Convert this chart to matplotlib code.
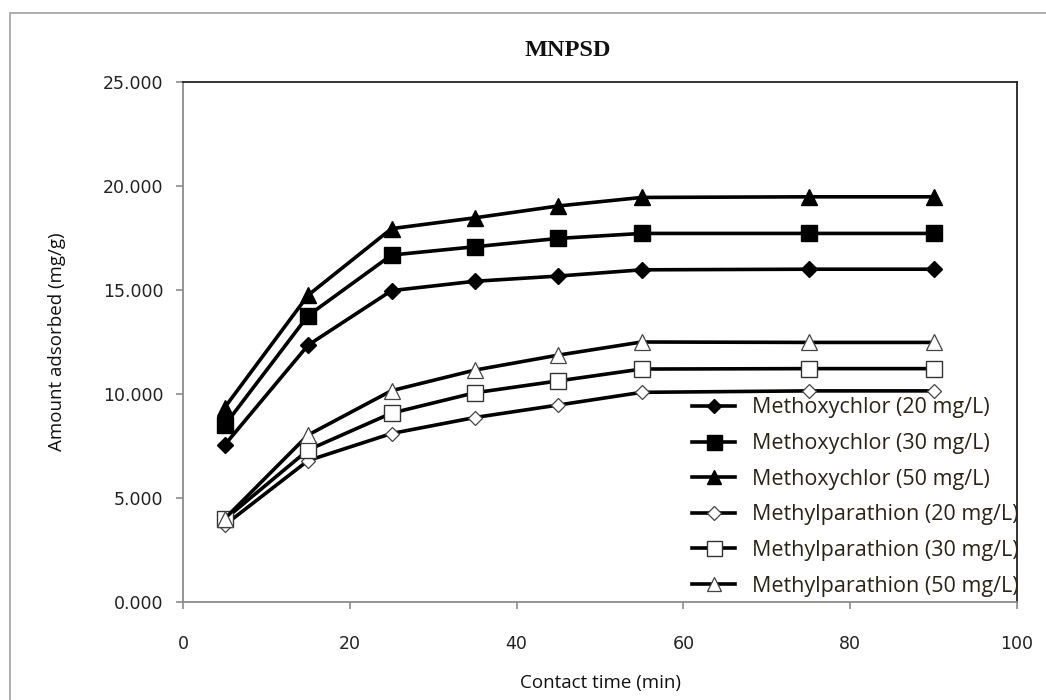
import matplotlib.pyplot as plt
from matplotlib.patches import Rectangle

# contact time (min)
time_min = [5, 15, 25, 35, 45, 55, 75, 90]

# amount adsorbed (mg/g)
methoxychlor_20 = [7.55, 12.35, 14.97, 15.42, 15.67, 15.97, 16.0, 16.0]
methoxychlor_30 = [8.5, 13.77, 16.68, 17.08, 17.48, 17.72, 17.72, 17.72]
methoxychlor_50 = [9.35, 14.75, 17.95, 18.47, 19.04, 19.45, 19.48, 19.48]
methylparathion_20 = [3.7, 6.8, 8.1, 8.87, 9.47, 10.08, 10.15, 10.15]
methylparathion_30 = [3.97, 7.31, 9.08, 10.06, 10.63, 11.2, 11.22, 11.22]
methylparathion_50 = [4.0, 8.03, 10.16, 11.15, 11.87, 12.5, 12.48, 12.48]

labels = ["Methoxychlor (20 mg/L)", "Methoxychlor (30 mg/L)", "Methoxychlor (50 mg/L)",
          "Methylparathion (20 mg/L)", "Methylparathion (30 mg/L)", "Methylparathion (50 mg/L)"]

W, H = 1046, 700
fig = plt.figure(figsize=(W / 100, H / 100), dpi=100)
ax = fig.add_axes([183 / W, 1 - 602 / H, (1017 - 183) / W, (602 - 82) / H])

# outer chart border
fig.patches.append(Rectangle((10 / W, -0.1), 1.1, 1.1 - 13 / H, transform=fig.transFigure,
                             fill=False, edgecolor="#a0a0a0", linewidth=1.2))

lw = 2.6
ax.plot(time_min, methoxychlor_20, color="black", lw=lw, marker="D", ms=8.3, mfc="black", mec="black", label=labels[0])
ax.plot(time_min, methoxychlor_30, color="black", lw=lw, marker="s", ms=12, mfc="black", mec="black", label=labels[1])
ax.plot(time_min, methoxychlor_50, color="black", lw=lw, marker="^", ms=11.5, mfc="black", mec="black", label=labels[2])
ax.plot(time_min, methylparathion_20, color="black", lw=lw, marker="D", ms=7.5, mfc="white", mec="#444444", mew=0.9, label=labels[3])
ax.plot(time_min, methylparathion_30, color="black", lw=lw, marker="s", ms=12, mfc="white", mec="#333333", mew=1.0, label=labels[4])
ax.plot(time_min, methylparathion_50, color="black", lw=lw, marker="^", ms=11.5, mfc="white", mec="#444444", mew=0.9, label=labels[5])

ax.set_xlim(0, 100)
ax.set_ylim(0, 25)
ax.set_xticks(range(0, 101, 20))
ax.set_yticks(range(0, 26, 5))
ax.set_yticklabels([f"{v:.3f}" for v in range(0, 26, 5)])

for s in ["left", "bottom"]:
    ax.spines[s].set_color("#8c8c8c")
    ax.spines[s].set_linewidth(1.3)
for s in ["top", "right"]:
    ax.spines[s].set_color("#222222")
    ax.spines[s].set_linewidth(1.3)

ax.tick_params(axis="x", direction="out", length=5, width=1.2, color="#8c8c8c", pad=19,
               labelsize=12.5, labelcolor="#222222")
ax.tick_params(axis="y", direction="out", length=5, width=1.2, color="#8c8c8c", pad=9,
               labelsize=12.5, labelcolor="#222222")
for t in ax.get_xticklabels() + ax.get_yticklabels():
    t.set_family("DejaVu Sans")

ax.set_xlabel("Contact time (min)", fontsize=13.5, family="Open Sans", color="#111111")
ax.xaxis.set_label_coords(0.5, (602 - 683) / 520)
ax.xaxis.label.set_va("center")
ax.set_ylabel("Amount adsorbed (mg/g)", fontsize=13.5, family="Open Sans", color="#111111")
ax.yaxis.set_label_coords((57 - 183) / 834, 0.5)
ax.yaxis.label.set_va("center")

fig.text(568 / W, 1 - 50 / H, "MNPSD", ha="center", va="center", fontsize=17.5,
         family="Liberation Serif", weight="bold", color="#111111")

leg = ax.legend(loc="center left", bbox_to_anchor=(692 / W, 1 - 497 / H),
                bbox_transform=fig.transFigure, frameon=False, borderpad=0, borderaxespad=0,
                handlelength=2.0, handletextpad=0.8, labelspacing=0.68, markerscale=0.9,
                prop={"family": "Open Sans", "size": 15.5})
for t in leg.get_texts():
    t.set_color("#2a2416")

fig.savefig("out.png", dpi=100)
